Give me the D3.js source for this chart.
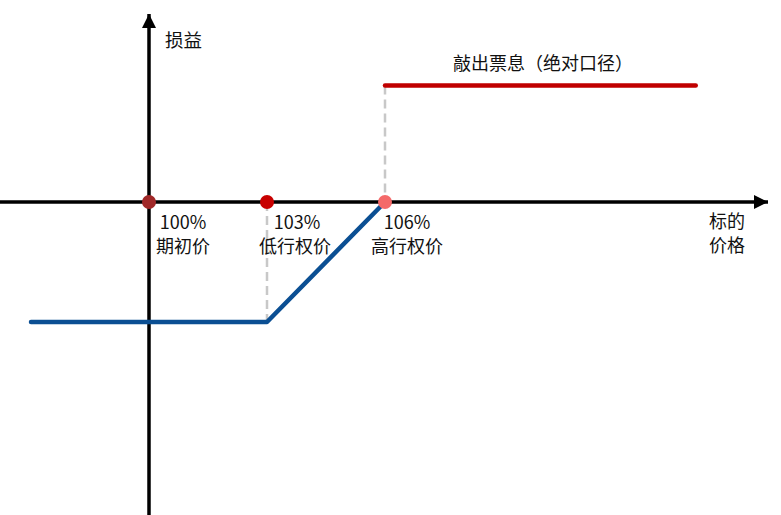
<!DOCTYPE html>
<html><head><meta charset="utf-8">
<script src="https://cdn.jsdelivr.net/npm/d3@7"></script>
<style>body{margin:0;background:#fff}svg{display:block}text{font-family:"Noto Sans CJK SC","Microsoft YaHei",sans-serif;fill:#111}</style>
</head><body><svg id="c" width="781" height="515"></svg>
<script>
// price levels (% of initial) and payoff
const strikes = [100, 103, 106];
const strikePct = ["100%", "103%", "106%"];
const strikeNames = ["期初价", "低行权价", "高行权价"];
const bluePayoff = [[97, -1], [103, -1], [106, 0]];
const redPayoff = [[106, 0.97], [113.9, 0.97]];
const couponLabel = "敲出票息（绝对口径）";
const yLabel = "损益";
const xLabel = ["标的", "价格"];

const svg = d3.select("#c");
const x = d3.scaleLinear().domain([100, 106]).range([149, 385]);
const y = d3.scaleLinear().domain([0, 1]).range([202, 82]);

const defs = svg.append("defs");
defs.append("marker").attr("id","ah").attr("viewBox","0 0 10 10").attr("refX",10).attr("refY",5)
  .attr("markerWidth",14).attr("markerHeight",16).attr("markerUnits","userSpaceOnUse").attr("orient","auto")
  .append("path").attr("d","M0,0L10,5L0,10Z").attr("fill","#000");

// dashed guides
svg.append("line").attr("x1",x(103)).attr("x2",x(103)).attr("y1",y(0)).attr("y2",y(-1))
  .attr("stroke","#c8c8c8").attr("stroke-width",2.5).attr("stroke-dasharray","9,5");
svg.append("line").attr("x1",x(106)).attr("x2",x(106)).attr("y1",y(0.97)).attr("y2",y(0))
  .attr("stroke","#c8c8c8").attr("stroke-width",2.5).attr("stroke-dasharray","9,5");

// axes
svg.append("line").attr("x1",0).attr("x2",768).attr("y1",y(0)).attr("y2",y(0))
  .attr("stroke","#000").attr("stroke-width",3.5).attr("marker-end","url(#ah)");
svg.append("line").attr("x1",x(100)).attr("x2",x(100)).attr("y1",515).attr("y2",14)
  .attr("stroke","#000").attr("stroke-width",3.5).attr("marker-end","url(#ah)");

const line = d3.line().x(d=>x(d[0])).y(d=>y(d[1]));
svg.append("path").attr("d",line(bluePayoff)).attr("fill","none").attr("stroke","#0b4f93")
  .attr("stroke-width",4.5).attr("stroke-linecap","round").attr("stroke-linejoin","round");
svg.append("path").attr("d",line(redPayoff)).attr("fill","none").attr("stroke","#c00000")
  .attr("stroke-width",4.5).attr("stroke-linecap","round");

const dotColors = ["#a02828","#c80000","#f46a6a"];
const pctOff = [34, 30, 22];
const nameOff = [34, 28, 22];
strikes.forEach((s,i)=>{
  svg.append("circle").attr("cx",x(s)).attr("cy",y(0)).attr("r",7).attr("fill",dotColors[i]);
  const t = svg.append("text").attr("text-anchor","middle").attr("font-size",18);
  t.append("tspan").attr("x",x(s)+pctOff[i]).attr("y",y(0)+27).text(strikePct[i]);
  t.append("tspan").attr("x",x(s)+nameOff[i]).attr("y",y(0)+51).text(strikeNames[i]);
});

svg.append("text").attr("x",165).attr("y",47).attr("font-size",18.5).text(yLabel);
svg.append("text").attr("x",727).attr("y",228).attr("text-anchor","middle").attr("font-size",18).text(xLabel[0]);
svg.append("text").attr("x",727).attr("y",252).attr("text-anchor","middle").attr("font-size",18).text(xLabel[1]);
svg.append("text").attr("x",543).attr("y",70).attr("text-anchor","middle").attr("font-size",18).text(couponLabel);
</script></body></html>
